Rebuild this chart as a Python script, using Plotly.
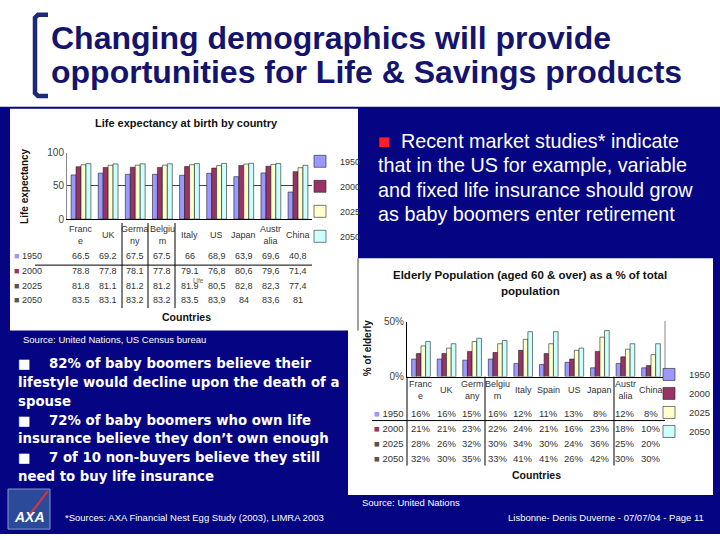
import plotly.graph_objects as go

W, H = 720, 540
def px(x): return x / W
def py(y): return 1 - y / H

NAVY = "#050583"
TITLE_C = "#14146e"
FONT = "Liberation Sans"

years = ["1950", "2000", "2025", "2050"]
year_colors = ["#9999ff", "#993366", "#ffffcc", "#ccffff"]

# Life expectancy at birth by country
le_countries = ["France", "UK", "Germany", "Belgium", "Italy", "US", "Japan", "Australia", "China"]
le_ticklabels = ["Franc<br>e", "UK", "Germa<br>ny", "Belgiu<br>m", "Italy", "US", "Japan", "Austr<br>alia", "China"]
le_1950 = [66.5, 69.2, 67.5, 67.5, 66, 68.9, 63.9, 69.6, 40.8]
le_2000 = [78.8, 77.8, 78.1, 77.8, 79.1, 76.8, 80.6, 79.6, 71.4]
le_2025 = [81.8, 81.1, 81.2, 81.2, 81.9, 80.5, 82.8, 82.3, 77.4]
le_2050 = [83.5, 83.1, 83.2, 83.2, 83.5, 83.9, 84, 83.6, 81]
le_comma_from = 5  # table uses decimal commas from the 6th column on

# Elderly population (60+) as % of total
el_countries = ["France", "UK", "Germany", "Belgium", "Italy", "Spain", "US", "Japan", "Australia", "China"]
el_ticklabels = ["Franc<br>e", "UK", "Germ<br>any", "Belgiu<br>m", "Italy", "Spain", "US", "Japan", "Austr<br>alia", "China"]
el_1950 = [16, 16, 15, 16, 12, 11, 13, 8, 12, 8]
el_2000 = [21, 21, 23, 22, 24, 21, 16, 23, 18, 10]
el_2025 = [28, 26, 32, 30, 34, 30, 24, 36, 25, 20]
el_2050 = [32, 30, 35, 33, 41, 41, 26, 42, 30, 30]

le_series = [le_1950, le_2000, le_2025, le_2050]
el_series = [el_1950, el_2000, el_2025, el_2050]

fig = go.Figure()

for yr, col, vals in zip(years, year_colors, le_series):
    fig.add_trace(go.Bar(x=le_countries, y=vals, name=yr, marker=dict(color=col, line=dict(color="#222", width=0.6)),
                         xaxis="x", yaxis="y", legend="legend", legendgroup="L" + yr, hoverinfo="skip"))
for yr, col, vals in zip(years, year_colors, el_series):
    fig.add_trace(go.Bar(x=el_countries, y=vals, name=yr, marker=dict(color=col, line=dict(color="#222", width=0.6)),
                         xaxis="x2", yaxis="y2", legend="legend2", legendgroup="E" + yr, hoverinfo="skip"))

shapes = []
ann = []

def rect(x0, y0, x1, y1, fill, line_color=None, lw=0, layer="below"):
    shapes.append(dict(type="rect", xref="paper", yref="paper", x0=px(x0), x1=px(x1), y0=py(y1), y1=py(y0),
                       fillcolor=fill, line=dict(color=line_color or fill, width=lw), layer=layer))

def line(x0, y0, x1, y1, color="#000", w=1, layer="above"):
    shapes.append(dict(type="line", xref="paper", yref="paper", x0=px(x0), x1=px(x1), y0=py(y0), y1=py(y1),
                       line=dict(color=color, width=w), layer=layer))

def text(x, y, s, size=10, color="#fff", family=FONT, xanchor="left", bold=False, angle=0):
    ann.append(dict(xref="paper", yref="paper", x=px(x), y=py(y), text=("<b>%s</b>" % s) if bold else s,
                    showarrow=False, xanchor=xanchor, yanchor="middle", textangle=angle,
                    font=dict(size=size, color=color, family=family)))

# slide background
rect(0, 103, 720, 540, NAVY)
rect(10, 105, 358, 332, "#ffffff")
rect(348, 258, 713, 500, "#ffffff")
line(358, 258, 358, 332, "#444", 1)

# bracket
p = [(48, 9), (38, 9), (35, 12), (35, 89), (38, 92), (48, 92)]
path = "M " + " L ".join("%f,%f" % (px(a), py(b)) for a, b in p)
shapes.append(dict(type="path", xref="paper", yref="paper", path=path, line=dict(color="#1c2a78", width=4.5)))

# title
text(49, 33, "Changing demographics will provide", 32, TITLE_C, bold=True)
text(49, 68, "opportunities for Life & Savings products", 32, TITLE_C, bold=True)

# left chart decorations
text(186, 120, "Life expectancy at birth by country", 11, "#111", bold=True, xanchor="center")
text(25, 185, "Life expectancy", 10, "#111", bold=True, xanchor="center", angle=-90)
text(186, 318, "Countries", 10.5, "#111", bold=True, xanchor="center")
for c, lab in zip(le_countries, le_ticklabels):
    ann.append(dict(xref="x", yref="paper", x=c, y=py(234), xanchor="center", yanchor="middle", showarrow=False,
                    text=lab, font=dict(size=9, color="#333", family=FONT)))
le_rows_y = [256, 271, 286, 301]
for yr, col, vals, yy in zip(years, year_colors, le_series, le_rows_y):
    ann.append(dict(xref="paper", yref="paper", x=px(12), y=py(yy), xanchor="left", yanchor="middle", showarrow=False,
                    text="<span style='color:%s'>■</span> %s" % (col if yr in ("1950", "2000") else "#555", yr),
                    font=dict(size=9, color="#333", family=FONT)))
    for i, (c, v) in enumerate(zip(le_countries, vals)):
        s = ("%g" % v)
        if i >= le_comma_from:
            s = s.replace(".", ",")
        ann.append(dict(xref="x", yref="paper", x=c, y=py(yy), xanchor="center", yanchor="middle", showarrow=False,
                        text=s, font=dict(size=9, color="#333", family=FONT)))
text(198, 281, "Life", 6.5, "#666", xanchor="center")
line(35, 265, 312, 265, "#000", 1)
for xx in [122, 148, 175]:
    line(xx, 222, xx, 309, "#000", 1)

# right chart decorations
text(530, 275, "Elderly Population (aged 60 & over) as a % of total", 11.5, "#111", bold=True, xanchor="center")
text(530, 291, "population", 11.5, "#111", bold=True, xanchor="center")
text(367, 350, "% of elderly", 10, "#111", bold=True, xanchor="center", angle=-90)
text(536, 480, "Countries", 10.5, "#111", bold=True, xanchor="center")
for c, lab in zip(el_countries, el_ticklabels):
    ann.append(dict(xref="x2", yref="paper", x=c, y=py(393), xanchor="center", yanchor="middle", showarrow=False,
                    text=lab, font=dict(size=9, color="#333", family=FONT)))
el_rows_y = [417, 432, 447, 463]
for yr, col, vals, yy in zip(years, year_colors, el_series, el_rows_y):
    ann.append(dict(xref="paper", yref="paper", x=px(372), y=py(yy), xanchor="left", yanchor="middle", showarrow=False,
                    text="<span style='color:%s'>■</span> %s" % (col if yr in ("1950", "2000") else "#555", yr),
                    font=dict(size=9.5, color="#333", family=FONT)))
    for c, v in zip(el_countries, vals):
        ann.append(dict(xref="x2", yref="paper", x=c, y=py(yy), xanchor="center", yanchor="middle", showarrow=False,
                        text="%d%%" % v, font=dict(size=9.5, color="#333", family=FONT)))
line(372, 424, 665, 424, "#000", 1)
for xx in [407, 485, 614]:
    line(xx, 379, xx, 470, "#000", 1)
line(665, 322, 665, 379, "#888", 1)

# text blocks
ann.append(dict(xref="paper", yref="paper", x=px(376), y=py(138), xanchor="left", yanchor="middle", showarrow=False,
                text="<span style='color:#ff2020'>■</span>  Recent market studies* indicate",
                font=dict(size=19.8, color="#fff", family=FONT)))
for yy, s in zip([163, 188, 213], ["that in the US for example, variable", "and fixed life insurance should grow",
                                   "as baby boomers enter retirement"]):
    text(376, yy, s, 19.8, "#fff")

left_lines = ["■    82% of baby boomers believe their", "lifestyle would decline upon the death of a", "spouse",
              "■    72% of baby boomers who own life", "insurance believe they don\u2019t own enough",
              "■    7 of 10 non-buyers believe they still", "need to buy life insurance"]
for i, s in enumerate(left_lines):
    text(16, 366 + i * 19.2, s, 13.3, "#fff", family="DejaVu Sans", bold=True)

text(21, 341, "Source: United Nations, US Census bureau", 9.5, "#fff")
text(360, 508, "Source: United Nations", 9.5, "#fff")
text(63, 523, "*Sources: AXA Financial Nest Egg Study (2003), LIMRA 2003", 9.5, "#fff")
text(706, 523, "Lisbonne- Denis Duverne - 07/07/04 - Page 11", 9.5, "#fff", xanchor="right")

# AXA logo
rect(8, 494, 50, 535, "#2b4a9a", "#8899cc", 1, layer="above")
line(30, 520, 48, 496, "#e0303a", 2)
text(29, 523, "<i>AXA</i>", 14, "#fff", bold=True, xanchor="center")

fig.update_layout(
    width=W, height=H, margin=dict(l=0, r=0, t=0, b=0),
    paper_bgcolor="#ffffff", plot_bgcolor="#ffffff",
    barmode="group", bargap=0.27, bargroupgap=0,
    font=dict(family=FONT),
    showlegend=True,
    xaxis=dict(domain=[px(67), px(312)], anchor="y", showline=True, linecolor="#000", ticks="",
               categoryorder="array", categoryarray=le_countries, showticklabels=False, fixedrange=True),
    yaxis=dict(domain=[py(218), py(150)], anchor="x", range=[0, 100], tickvals=[0, 50, 100], showgrid=True,
               gridcolor="#444", zeroline=False, showline=True, linecolor="#888", ticks="",
               tickfont=dict(size=10, color="#444", family=FONT)),
    xaxis2=dict(domain=[px(407), px(665)], anchor="y2", showline=True, linecolor="#000", ticks="",
                categoryorder="array", categoryarray=el_countries, showticklabels=False),
    yaxis2=dict(domain=[py(379), py(323)], anchor="x2", range=[0, 50], tickvals=[0, 50], ticktext=["0%", "50%"],
                showgrid=False, zeroline=False, showline=True, linecolor="#000", ticks="",
                tickfont=dict(size=10, color="#444", family=FONT)),
    legend=dict(x=px(300), y=py(144), xanchor="left", yanchor="top", bgcolor="rgba(0,0,0,0)",
                font=dict(size=9, color="#333", family=FONT), tracegroupgap=6, itemwidth=30),
    legend2=dict(x=px(649), y=py(362), xanchor="left", yanchor="top", bgcolor="rgba(0,0,0,0)",
                 font=dict(size=9.5, color="#333", family=FONT), tracegroupgap=0, itemwidth=30),
    shapes=shapes, annotations=ann,
)

fig.write_html("out.html", config={"displayModeBar": False},
               post_script="document.body.style.margin='0';document.body.style.overflow='hidden';")
